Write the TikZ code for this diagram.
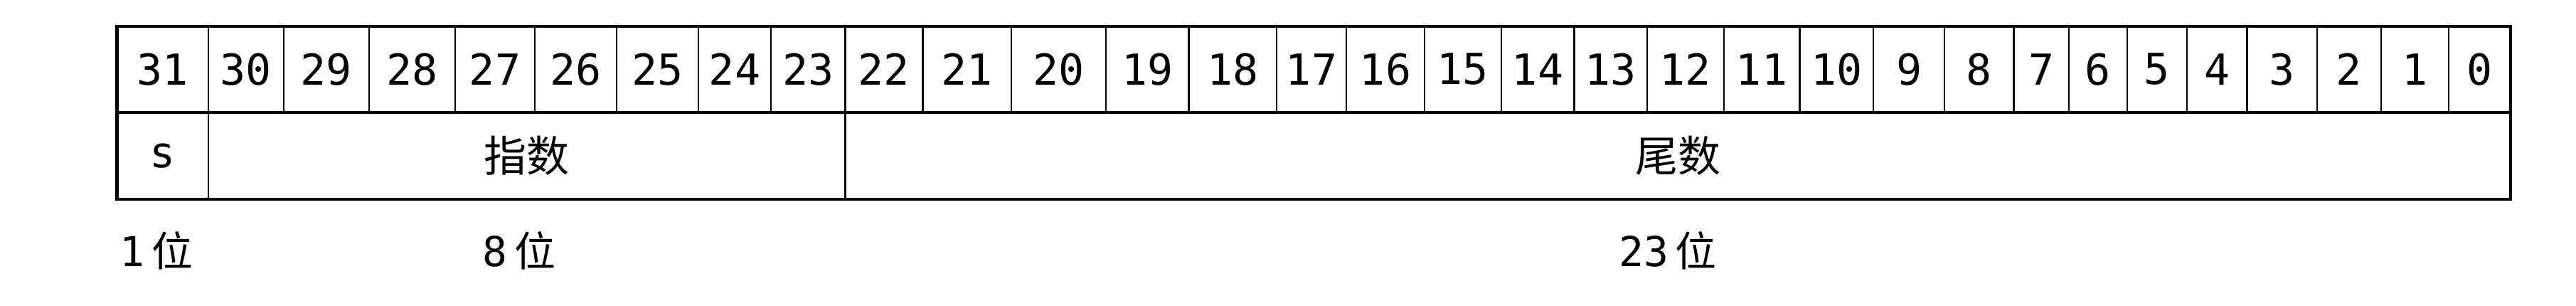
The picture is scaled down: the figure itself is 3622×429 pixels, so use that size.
\documentclass[tikz,border=0pt]{standalone}
\usepackage{fontspec}
\setmainfont{DejaVu Sans Mono}
\newfontfamily\cjk{Noto Sans CJK SC}
\begin{document}
\begin{tikzpicture}[x=0.25pt,y=-0.25pt,
  cellbox/.style={draw, line width=0.55pt, inner sep=0pt, outer sep=0pt, font=\fontsize{15}{17}\selectfont},
  frameline/.style={line width=1.1pt},
  lbl/.style={inner sep=0pt, font=\fontsize{14.5}{16}\selectfont}]
\useasboundingbox (0,0) rectangle (3622,429);
\foreach \n/\l/\r in {31/164.5/293, 30/293/398.7, 29/398.7/519, 28/519/640, 27/640/752, 26/752/867, 25/867/982, 24/982/1084, 23/1084/1188.4, 22/1188.4/1297.5, 21/1297.5/1421.8, 20/1421.8/1555, 19/1555/1671.4, 18/1671.4/1795, 17/1795/1893, 16/1893/2003, 15/2003/2110.6, 14/2110.6/2213.4, 13/2213.4/2316.3, 12/2316.3/2423.6, 11/2423.6/2530.5, 10/2530.5/2634.3, 9/2634.3/2734, 8/2734/2831.5, 7/2831.5/2909, 6/2909/2990.7, 5/2990.7/3074.7, 4/3074.7/3159.4, 3/3159.4/3257.6, 2/3257.6/3348, 1/3348/3443, 0/3443/3530}
{
  \node[cellbox, minimum width={(\r-\l)*0.25pt}, minimum height=30.25pt] (b\n) at ({(\l+\r)/2},97.5) {\n};
}
\node[cellbox, minimum width={(293-164.5)*0.25pt}, minimum height=30.5pt] (s) at ({(164.5+293)/2},219) {s};
\node[cellbox, minimum width={(1188.4-293)*0.25pt}, minimum height=30.5pt] (exp) at ({(293+1188.4)/2},219) {\cjk 指数};
\node[cellbox, minimum width={(3530-1188.4)*0.25pt}, minimum height=30.5pt] (man) at ({(1188.4+3530)/2},219) {\cjk 尾数};
\draw[frameline] (b31.north west) rectangle (man.south east);
\draw[frameline] (b31.south west) -- (b0.south east);
\node[lbl, anchor=west] (l1) at (168,352) {1\,{\cjk 位}};
\node[lbl] (l8) at (730,352) {8\,{\cjk 位}};
\node[lbl] (l23) at (2345,352) {23\,{\cjk 位}};
\end{tikzpicture}
\end{document}
